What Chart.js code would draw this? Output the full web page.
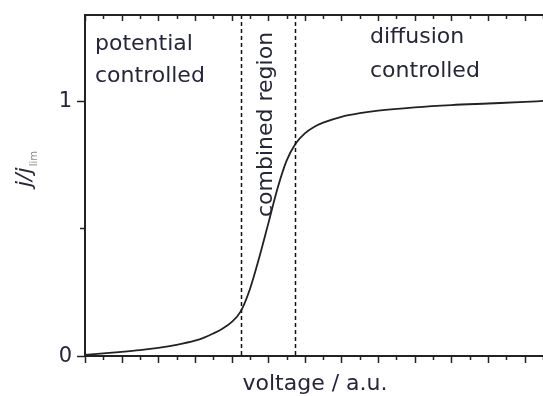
<!DOCTYPE html>
<html>
<head>
<meta charset="utf-8">
<script src="https://cdn.jsdelivr.net/npm/chart.js@4.4.1/dist/chart.umd.min.js"></script>
<style>
  html, body { margin: 0; padding: 0; background: #fff; }
  canvas { display: block; }
</style>
</head>
<body>
<canvas id="chart" width="543" height="396"></canvas>
<script>
// voltage (a.u., one major tick = 1) and normalised current j/j_lim
var voltage = [0, 0.5, 1.0, 1.5, 2.0, 2.5, 3.0, 3.25, 3.5, 3.75, 4.0, 4.25, 4.5, 4.75, 5.0, 5.25, 5.5, 5.75, 6.0, 6.25, 6.5, 7.0, 7.5, 8.0, 9.0, 10.0, 11.0, 12.0, 12.5];
var current = [0.004, 0.01, 0.016, 0.023, 0.032, 0.044, 0.06, 0.072, 0.088, 0.107, 0.133, 0.175, 0.262, 0.383, 0.518, 0.655, 0.765, 0.833, 0.873, 0.898, 0.915, 0.938, 0.952, 0.962, 0.975, 0.984, 0.99, 0.996, 1.0];

// region borders (dashed lines)
var regionBounds = [4.25, 5.72];

var xMajorTicks = [0, 1, 2, 3, 4, 5, 6, 7, 8, 9, 10, 11, 12];
var xMinorTicks = [0.5, 1.5, 2.5, 3.5, 4.5, 5.5, 6.5, 7.5, 8.5, 9.5, 10.5, 11.5, 12.5];
var yMajorTicks = [0, 1];
var yMinorTicks = [0.5];
var yTickLabels = ['0', '1'];

var ink = '#26263a';
var fontFam = '"DejaVu Sans", sans-serif';

var decorations = {
    id: 'decorations',
    afterDatasetsDraw: function(chart) {
        var ctx = chart.ctx;
        var a = chart.chartArea;
        var xs = chart.scales.x, ys = chart.scales.y;
        ctx.save();

        // dashed region borders
        ctx.strokeStyle = '#111';
        ctx.lineWidth = 1.5;
        ctx.setLineDash([4, 3]);
        regionBounds.forEach(function(v) {
            var px = Math.round(xs.getPixelForValue(v)) + 0.5;
            ctx.beginPath();
            ctx.moveTo(px, a.top);
            ctx.lineTo(px, a.bottom);
            ctx.stroke();
        });
        ctx.setLineDash([]);

        // axes frame: left, bottom, top
        ctx.strokeStyle = '#222';
        ctx.lineWidth = 2;
        ctx.beginPath();
        ctx.moveTo(a.right + 2, a.top);
        ctx.lineTo(a.left, a.top);
        ctx.lineTo(a.left, a.bottom);
        ctx.lineTo(a.right + 2, a.bottom);
        ctx.stroke();

        // x ticks: outward at bottom, inward at top
        ctx.lineWidth = 1.5;
        function xTick(v, lb, lt) {
            var px = Math.round(xs.getPixelForValue(v)) + 0.5;
            ctx.beginPath();
            ctx.moveTo(px, a.bottom);
            ctx.lineTo(px, a.bottom + lb);
            ctx.moveTo(px, a.top);
            ctx.lineTo(px, a.top + lt);
            ctx.stroke();
        }
        xMajorTicks.forEach(function(v) { xTick(v, 7, 6); });
        xMinorTicks.forEach(function(v) { xTick(v, 4, 4); });

        // y ticks: outward on the left
        function yTick(v, len) {
            var py = Math.round(ys.getPixelForValue(v)) + 0.5;
            ctx.beginPath();
            ctx.moveTo(a.left, py);
            ctx.lineTo(a.left - len, py);
            ctx.stroke();
        }
        yMajorTicks.forEach(function(v) { yTick(v, 8); });
        yMinorTicks.forEach(function(v) { yTick(v, 5); });

        // y tick labels
        ctx.fillStyle = ink;
        ctx.font = '21px ' + fontFam;
        ctx.textAlign = 'right';
        ctx.textBaseline = 'middle';
        yMajorTicks.forEach(function(v, i) {
            ctx.fillText(yTickLabels[i], a.left - 13, ys.getPixelForValue(v) + 1);
        });

        // region labels
        ctx.font = '22px ' + fontFam;
        ctx.textAlign = 'left';
        ctx.textBaseline = 'alphabetic';
        ctx.fillText('potential', 95, 50);
        ctx.fillText('controlled', 95, 82);
        ctx.fillText('diffusion', 370, 43);
        ctx.fillText('controlled', 370, 77);

        ctx.save();
        ctx.translate(272, 217);
        ctx.rotate(-Math.PI / 2);
        ctx.fillText('combined region', 0, 0);
        ctx.restore();

        // x title
        ctx.textAlign = 'center';
        ctx.fillText('voltage / a.u.', 315, 390);

        // y title j/j_lim
        ctx.save();
        ctx.translate(31, 187);
        ctx.rotate(-Math.PI / 2);
        ctx.textAlign = 'left';
        ctx.font = 'italic 22px ' + fontFam;
        ctx.fillText('j/j', 0, 0);
        var w = ctx.measureText('j/j').width;
        ctx.font = '10px ' + fontFam;
        ctx.fillStyle = '#888';
        ctx.fillText('lim', w + 1, 6);
        ctx.restore();

        ctx.restore();
    }
};

new Chart(document.getElementById('chart').getContext('2d'), {
    type: 'line',
    data: {
        datasets: [{
            data: voltage.map(function(v, i) { return { x: v, y: current[i] }; }),
            borderColor: '#222',
            borderWidth: 1.8,
            pointRadius: 0,
            fill: false,
            cubicInterpolationMode: 'monotone'
        }]
    },
    options: {
        responsive: false,
        animation: false,
        layout: { padding: { left: 85, top: 15, right: 0, bottom: 40 } },
        plugins: { legend: { display: false }, tooltip: { enabled: false } },
        scales: {
            x: { type: 'linear', min: 0, max: 12.5, display: false },
            y: { min: 0, max: 1.337, display: false }
        }
    },
    plugins: [decorations]
});
</script>
</body>
</html>
